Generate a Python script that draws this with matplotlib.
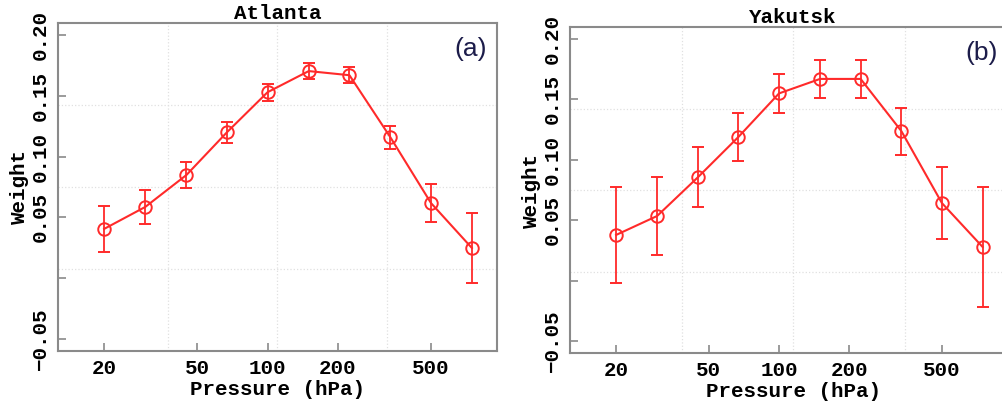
#!/usr/bin/env python3
import matplotlib
matplotlib.use("Agg")
import matplotlib.pyplot as plt
from matplotlib.ticker import FixedLocator, FixedFormatter, NullLocator

# pressure levels (hPa)
pressure = [20, 30, 45, 67, 100, 150, 224, 335, 500, 748]

atlanta_w = [0.0405, 0.0586, 0.0849, 0.120, 0.153, 0.1704, 0.167, 0.116, 0.0618, 0.0248]
atlanta_err = [0.019, 0.014, 0.0105, 0.0085, 0.007, 0.0065, 0.0066, 0.0095, 0.0155, 0.029]

yakutsk_w = [0.0378, 0.0535, 0.0858, 0.119, 0.155, 0.167, 0.167, 0.1238, 0.0642, 0.0278]
yakutsk_err = [0.040, 0.032, 0.0245, 0.020, 0.016, 0.0157, 0.0157, 0.0195, 0.030, 0.050]

x_ticks = [20, 50, 100, 200, 500]
y_ticks = [-0.05, 0.0, 0.05, 0.10, 0.15, 0.20]
y_tick_labels = ["\u22120.05", "", "0.05", "0.10", "0.15", "0.20"]

MONO = "Liberation Mono"
RED = "#ff2a2a"
SPINE = "#8a8a8a"


def draw_panel(ax, weights, errors, title, tag, xmax, tag_x):
    ax.errorbar(pressure, weights, yerr=errors, color=RED, lw=1.5,
                marker="o", ms=9, mfc="none", mec=RED, mew=1.4,
                ecolor=RED, elinewidth=1.3, capsize=4, capthick=1.3)
    ax.set_xscale("log")
    ax.set_xlim(12.7, xmax)
    ax.set_ylim(-0.06, 0.21)

    ax.xaxis.set_major_locator(FixedLocator(x_ticks))
    ax.xaxis.set_major_formatter(FixedFormatter([str(t) for t in x_ticks]))
    ax.xaxis.set_minor_locator(NullLocator())
    ax.yaxis.set_major_locator(FixedLocator(y_ticks))
    ax.yaxis.set_major_formatter(FixedFormatter(y_tick_labels))

    ax.tick_params(direction="in", length=6, width=1.2, color=SPINE,
                   top=False, right=False, labelsize=15, pad=6)
    for lab in ax.get_xticklabels() + ax.get_yticklabels():
        lab.set_fontfamily(MONO)
        lab.set_fontweight("bold")
    for lab in ax.get_yticklabels():
        lab.set_rotation(90)
        lab.set_va("center")

    for side in ax.spines.values():
        side.set_color(SPINE)
        side.set_linewidth(1.5)

    # dotted grid at quarters of the frame
    for f in (0.25, 0.5, 0.75):
        ax.plot([f, f], [0, 1], transform=ax.transAxes, color="#e0e0e0",
                lw=0.9, ls=":", zorder=0)
        ax.plot([0, 1], [f, f], transform=ax.transAxes, color="#e0e0e0",
                lw=0.9, ls=":", zorder=0)

    ax.set_title(title, fontfamily=MONO, fontweight="bold", fontsize=15, pad=3)
    ax.set_xlabel("Pressure (hPa)", fontfamily=MONO, fontweight="bold",
                  fontsize=15, labelpad=1)
    ax.set_ylabel("Weight", fontfamily=MONO, fontweight="bold", fontsize=15,
                  labelpad=1)
    ax.text(tag_x, 0.92, tag, transform=ax.transAxes, ha="center", va="center",
            fontsize=19, color="#1c1c4a", fontfamily="Liberation Sans")


def main() -> None:
    fig = plt.figure(figsize=(10.02, 4.03), dpi=100)
    ax_a = fig.add_axes([0.0579, 0.129, 0.438, 0.814])
    ax_b = fig.add_axes([0.569, 0.124, 0.445, 0.809])
    draw_panel(ax_a, atlanta_w, atlanta_err, "Atlanta", "(a)", 957, 0.94)
    draw_panel(ax_b, yakutsk_w, yakutsk_err, "Yakutsk", "(b)", 1040, 0.922)
    fig.savefig("out.png", dpi=100)
    plt.close(fig)


if __name__ == "__main__":
    main()
